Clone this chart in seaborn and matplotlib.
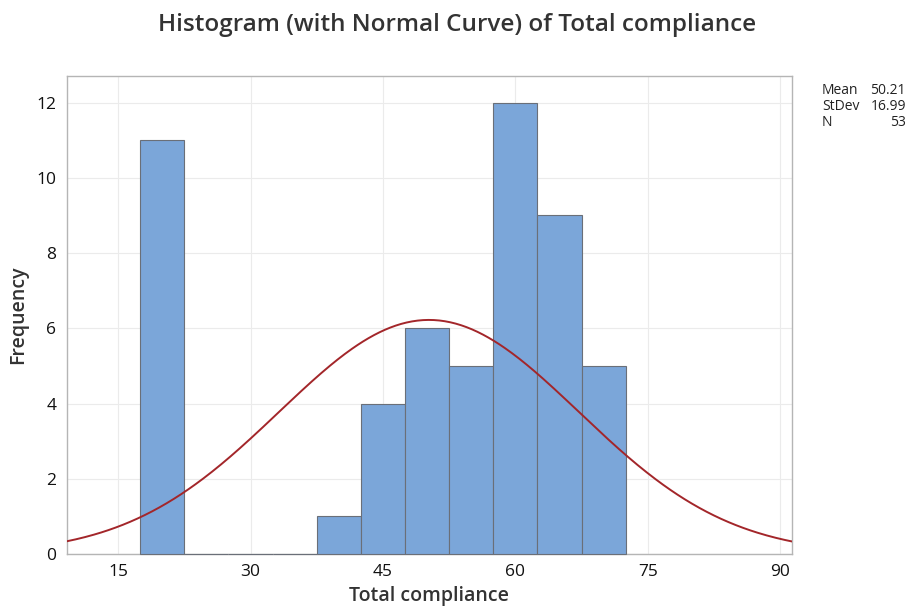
import numpy as np
import pandas as pd
import matplotlib
matplotlib.use('Agg')
import matplotlib.pyplot as plt
import seaborn as sns

# bin centres (width 5) and frequencies
centres = [20, 25, 30, 35, 40, 45, 50, 55, 60, 65, 70]
counts = [11, 0, 0, 0, 1, 4, 6, 5, 12, 9, 5]
mean_val = 50.21
sd_val = 16.99
n_val = 53
bin_width = 5
xticks = [15, 30, 45, 60, 75, 90]
yticks = [0, 2, 4, 6, 8, 10, 12]

df = pd.DataFrame({'total': centres, 'freq': counts})
lo = centres[0] - bin_width / 2
hi = centres[-1] + bin_width / 2

sns.set_style('white')
plt.rcParams['font.family'] = ['Open Sans', 'DejaVu Sans']

fig = plt.figure(figsize=(9.11, 6.12), dpi=100)
ax = fig.add_axes([0.0732, 0.0948, 0.7962, 0.7818])

sns.histplot(data=df, x='total', weights='freq', binwidth=bin_width, binrange=(lo, hi),
             ax=ax, color='#7BA6D9', edgecolor='#6a6f78', linewidth=0.8, alpha=1)
for p in ax.patches:
    p.set_zorder(3)
    p.set_clip_on(False)

# normal curve scaled to counts
xs = np.linspace(9.18, 91.33, 400)
ys = n_val * bin_width * np.exp(-0.5 * ((xs - mean_val) / sd_val) ** 2) / (sd_val * np.sqrt(2 * np.pi))
sns.lineplot(x=xs, y=ys, ax=ax, color='#A3262A', linewidth=1.4, zorder=4)

ax.set_xlim(9.18, 91.33)
ax.set_ylim(0, 12.72)
ax.set_xticks(xticks)
ax.set_yticks(yticks)
ax.grid(True, color='#ebebeb', linewidth=0.8)
ax.set_axisbelow(True)
for s in ax.spines.values():
    s.set_color('#b5b5b5')
    s.set_linewidth(1.0)
ax.tick_params(axis='both', direction='out', length=4, color='#b5b5b5',
               labelsize=12.5, labelcolor='#111111')

ax.set_xlabel('Total compliance', fontsize=14, color='#333333', fontweight='semibold', labelpad=4)
ax.set_ylabel('Frequency', fontsize=14, color='#333333', fontweight='semibold', labelpad=6)

fig.suptitle('Histogram (with Normal Curve) of Total compliance', fontsize=17.5,
             color='#333333', fontweight='semibold', x=0.502, y=0.978)

# stats box
rows = [('Mean', '50.21'), ('StDev', '16.99'), ('N', '53')]
for i, (lab, val) in enumerate(rows):
    yy = 1 - (90 + i * 16) / 612
    fig.text(822 / 911, yy, lab, fontsize=10, color='#222222', va='center', ha='left')
    fig.text(906 / 911, yy, val, fontsize=10, color='#222222', va='center', ha='right')

plt.savefig('out.png', dpi=100)
